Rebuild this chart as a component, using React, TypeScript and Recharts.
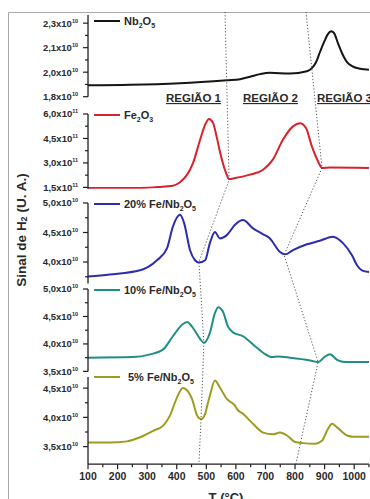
import { LineChart, Line, XAxis, YAxis } from "recharts";

// temperature (°C) and H2 signal
const nbTemp = [100, 242, 411, 570, 614, 648, 682, 715, 783, 840, 857, 871, 884, 898, 911, 922, 932, 945, 959, 976, 993, 1020, 1050];
const nbSignal = [1.870, 1.873, 1.883, 1.901, 1.907, 1.922, 1.938, 1.946, 1.942, 1.956, 1.975, 2.011, 2.072, 2.134, 2.183, 2.201, 2.189, 2.128, 2.066, 2.011, 1.987, 1.971, 1.965];

const feTemp = [100, 276, 340, 387, 411, 435, 455, 479, 496, 509, 523, 536, 550, 567, 577, 597, 648, 692, 725, 759, 793, 817, 837, 857, 878, 891, 918, 1050];
const feSignal = [1.46, 1.46, 1.52, 1.60, 1.81, 2.28, 2.99, 4.42, 5.34, 5.69, 5.44, 4.52, 3.40, 2.38, 2.01, 2.07, 2.28, 2.58, 3.20, 4.42, 5.24, 5.44, 5.14, 4.01, 3.09, 2.69, 2.72, 2.69];

const fe20Temp = [100, 174, 276, 333, 367, 387, 411, 425, 445, 462, 475, 496, 512, 529, 546, 570, 597, 624, 658, 692, 715, 749, 766, 793, 840, 884, 928, 962, 993, 1010, 1026, 1050];
const fe20Signal = [3.755, 3.79, 3.86, 4.03, 4.23, 4.60, 4.80, 4.66, 4.20, 4.03, 3.99, 4.03, 4.32, 4.51, 4.40, 4.46, 4.63, 4.71, 4.57, 4.47, 4.40, 4.17, 4.13, 4.20, 4.30, 4.36, 4.43, 4.32, 4.11, 3.94, 3.86, 3.83];

const fe10Temp = [100, 252, 310, 354, 387, 418, 435, 455, 479, 492, 512, 529, 540, 556, 573, 590, 624, 658, 692, 722, 742, 783, 851, 878, 901, 918, 942, 969, 1050];
const fe10Signal = [3.75, 3.76, 3.81, 3.90, 4.14, 4.35, 4.40, 4.29, 4.09, 4.02, 4.20, 4.56, 4.67, 4.59, 4.32, 4.21, 4.14, 3.99, 3.84, 3.76, 3.77, 3.75, 3.70, 3.67, 3.77, 3.81, 3.71, 3.67, 3.67];

const fe5Temp = [100, 174, 232, 276, 320, 354, 377, 400, 421, 452, 469, 482, 496, 506, 512, 529, 546, 570, 597, 604, 624, 658, 692, 725, 749, 773, 800, 827, 868, 891, 911, 925, 942, 976, 996, 1050];
const fe5Signal = [3.57, 3.57, 3.59, 3.66, 3.77, 3.86, 4.03, 4.33, 4.50, 4.31, 4.03, 3.97, 4.06, 4.26, 4.37, 4.63, 4.51, 4.31, 4.20, 4.14, 4.06, 3.89, 3.74, 3.71, 3.74, 3.69, 3.58, 3.56, 3.55, 3.60, 3.80, 3.89, 3.83, 3.69, 3.67, 3.67];

// y tick values and their printed labels
const nbMajor = [1.8, 1.95, 2.1, 2.25];
const nbLabels = ["1,8", "2,0", "2,1", "2,3"];
const nbMinor = [1.875, 2.025, 2.175];
const feMajor = [1.5, 3.0, 4.5, 6.0];
const feLabels = ["1,5", "3,0", "4,5", "6,0"];
const feMinor = [2.25, 3.75, 5.25];
const fe20Major = [4.0, 4.5, 5.0];
const fe20Labels = ["4,0", "4,5", "5,0"];
const fe10Major = [3.5, 4.0, 4.5, 5.0];
const fe10Labels = ["3,5", "4,0", "4,5", "5,0"];
const fe5Major = [3.5, 4.0, 4.5];
const fe5Labels = ["3,5", "4,0", "4,5"];
const halfMinor = [3.75, 4.25, 4.75];

const tempTicks = [100, 150, 200, 250, 300, 350, 400, 450, 500, 550, 600, 650, 700, 750, 800, 850, 900, 950, 1000, 1050];

const PLOT_LEFT = 88;
const PLOT_RIGHT = 369;
const T_MIN = 100;
const T_MAX = 1050;
const PAD = 8;
const X_AXIS_H = 30;
const FONT = "'Liberation Sans', Arial, sans-serif";
const AXIS = "#1e1e1e";
const TEXT = "#2a2a2a";

const tempToX = (t: number) => PLOT_LEFT + ((t - T_MIN) / (T_MAX - T_MIN)) * (PLOT_RIGHT - PLOT_LEFT);

const toRows = (temps: number[], vals: number[]) => temps.map((t, i) => ({ t, v: vals[i] }));

const panels = [
  { key: "nb", data: toRows(nbTemp, nbSignal), color: "#151515", domain: [1.8, 2.3], top: 14.8, bottom: 96.5, major: nbMajor, labels: nbLabels, minor: nbMinor, exp: "10" },
  { key: "fe", data: toRows(feTemp, feSignal), color: "#d8222c", domain: [1.42, 6.0], top: 114.3, bottom: 189, major: feMajor, labels: feLabels, minor: feMinor, exp: "11" },
  { key: "f20", data: toRows(fe20Temp, fe20Signal), color: "#2c2cae", domain: [3.636, 5.0], top: 202.5, bottom: 283, major: fe20Major, labels: fe20Labels, minor: halfMinor, exp: "10" },
  { key: "f10", data: toRows(fe10Temp, fe10Signal), color: "#1f8f86", domain: [3.5, 5.0], top: 289.3, bottom: 371.7, major: fe10Major, labels: fe10Labels, minor: halfMinor, exp: "10" },
  { key: "f5", data: toRows(fe5Temp, fe5Signal), color: "#9c9c1e", domain: [3.2, 4.69], top: 377, bottom: 464.2, major: fe5Major, labels: fe5Labels, minor: [3.75, 4.25], exp: "10" },
];

// dotted guides: [temperature, page y]
const guideA: [number, number][] = [[563, 12], [577, 180], [475, 262], [492, 343], [482, 420], [475, 464]];
const guideB: [number, number][] = [[837, 12], [891, 168], [763, 255], [878, 362], [803, 464]];

function YTick(props: any) {
  const { x, y, payload, major, labels, exp } = props;
  const i = major.findIndex((m: number) => Math.abs(m - payload.value) < 1e-6);
  const isMajor = i >= 0;
  return (
    <g>
      <line x1={x} x2={x - (isMajor ? 5 : 3)} y1={y} y2={y} stroke={AXIS} strokeWidth={1.2} />
      {isMajor && (
        <text x={x - 10} y={y + 3.4} textAnchor="end" fontFamily={FONT} fontWeight="bold" fontSize={9.5} fill={TEXT}>
          {labels[i]}x10
          <tspan dy={-4} fontSize={5.5}>{exp}</tspan>
        </text>
      )}
    </g>
  );
}

function XTick(props: any) {
  const { x, y, payload } = props;
  const v = payload.value;
  const isMajor = v % 100 === 0 && v <= 1000;
  return (
    <g>
      <line x1={x} x2={x} y1={y} y2={y + (isMajor ? 5 : 3)} stroke={AXIS} strokeWidth={1.2} />
      {isMajor && (
        <text x={x} y={y + 16} textAnchor="middle" fontFamily={FONT} fontWeight="bold" fontSize={10.5} fill={TEXT}>
          {v}
        </text>
      )}
    </g>
  );
}

function Panel({ p, last }: { p: any; last: boolean }) {
  const h = p.bottom - p.top;
  return (
    <div style={{ position: "absolute", left: 0, top: p.top - PAD }}>
      <LineChart
        width={370}
        height={PAD + h + (last ? X_AXIS_H : PAD)}
        data={p.data}
        margin={{ top: PAD, right: 370 - PLOT_RIGHT, bottom: last ? 0 : PAD, left: 0 }}
      >
        <XAxis
          dataKey="t"
          type="number"
          domain={[T_MIN, T_MAX]}
          ticks={tempTicks}
          interval={0}
          hide={!last}
          height={X_AXIS_H}
          tickSize={0}
          tickMargin={0}
          tick={<XTick />}
          axisLine={{ stroke: AXIS, strokeWidth: 1.3 }}
          allowDataOverflow
        />
        <YAxis
          type="number"
          domain={p.domain}
          ticks={[...p.major, ...p.minor].sort((a: number, b: number) => a - b)}
          interval={0}
          width={PLOT_LEFT}
          tickSize={0}
          tickMargin={0}
          tick={(tp: any) => <YTick {...tp} major={p.major} labels={p.labels} exp={p.exp} />}
          axisLine={{ stroke: AXIS, strokeWidth: 1.3 }}
          allowDataOverflow
        />
        <Line type="monotone" dataKey="v" stroke={p.color} strokeWidth={2} dot={false} isAnimationActive={false} />
      </LineChart>
    </div>
  );
}

function Sub({ children }: { children: string }) {
  return (
    <tspan dy={3} fontSize={7}>
      {children}
    </tspan>
  );
}

function LegendItem({ y, color, x, prefix }: { y: number; color: string; x: number; prefix: string }) {
  return (
    <g>
      <line x1={94} x2={120} y1={y} y2={y} stroke={color} strokeWidth={2} />
      <text x={x} y={y + 4} fontFamily={FONT} fontWeight="bold" fontSize={11} fill={TEXT}>
        {prefix}Nb<Sub>2</Sub>
        <tspan dy={-3}>O</tspan>
        <Sub>5</Sub>
      </text>
    </g>
  );
}

function guidePath(pts: [number, number][]) {
  return pts.map(([t, y], i) => `${i === 0 ? "M" : "L"}${tempToX(t).toFixed(1)},${y}`).join(" ");
}

export default function App() {
  return (
    <div style={{ position: "absolute", left: 0, top: 0, width: 370, height: 499, background: "#fff", overflow: "hidden" }}>
      {panels.map((p, i) => (
        <Panel key={p.key} p={p} last={i === panels.length - 1} />
      ))}
      <svg width={370} height={499} style={{ position: "absolute", left: 0, top: 0, pointerEvents: "none" }}>
        <line x1={8.5} y1={12.5} x2={370} y2={12.5} stroke="#aaa" strokeWidth={1} />
        <line x1={8.5} y1={12.5} x2={8.5} y2={499} stroke="#aaa" strokeWidth={1} />
        <path d={guidePath(guideA)} fill="none" stroke="#555" strokeWidth={1} strokeDasharray="1.2 2" />
        <path d={guidePath(guideB)} fill="none" stroke="#555" strokeWidth={1} strokeDasharray="1.2 2" />
        {[
          ["REGIÃO 1", 166],
          ["REGIÃO 2", 243],
          ["REGIÃO 3", 317],
        ].map(([label, x]) => (
          <text key={label} x={x} y={102} fontFamily={FONT} fontWeight="bold" fontSize={11.5} fill={TEXT} textDecoration="underline">
            {label}
          </text>
        ))}
        <g>
          <line x1={94} x2={120} y1={21} y2={21} stroke="#151515" strokeWidth={2} />
          <text x={124} y={25} fontFamily={FONT} fontWeight="bold" fontSize={11} fill={TEXT}>
            Nb<Sub>2</Sub>
            <tspan dy={-3}>O</tspan>
            <Sub>5</Sub>
          </text>
        </g>
        <g>
          <line x1={94} x2={120} y1={115} y2={115} stroke="#d8222c" strokeWidth={2} />
          <text x={124} y={119} fontFamily={FONT} fontWeight="bold" fontSize={11} fill={TEXT}>
            Fe<Sub>2</Sub>
            <tspan dy={-3}>O</tspan>
            <Sub>3</Sub>
          </text>
        </g>
        <LegendItem y={204} color="#2c2cae" x={124} prefix="20% Fe/" />
        <LegendItem y={290} color="#1f8f86" x={124} prefix="10% Fe/" />
        <LegendItem y={377} color="#9c9c1e" x={128} prefix="5% Fe/" />
        <text
          x={21}
          y={230}
          transform="rotate(-90 21 230)"
          textAnchor="middle"
          dominantBaseline="central"
          fontFamily={FONT}
          fontWeight="bold"
          fontSize={13.5}
          fill={TEXT}
        >
          Sinal de H<tspan dy={3} fontSize={9}>2</tspan>
          <tspan dy={-3}> (U. A.)</tspan>
        </text>
        <text x={226} y={502} textAnchor="middle" fontFamily={FONT} fontWeight="bold" fontSize={13} fill={TEXT}>
          T (°C)
        </text>
      </svg>
    </div>
  );
}
